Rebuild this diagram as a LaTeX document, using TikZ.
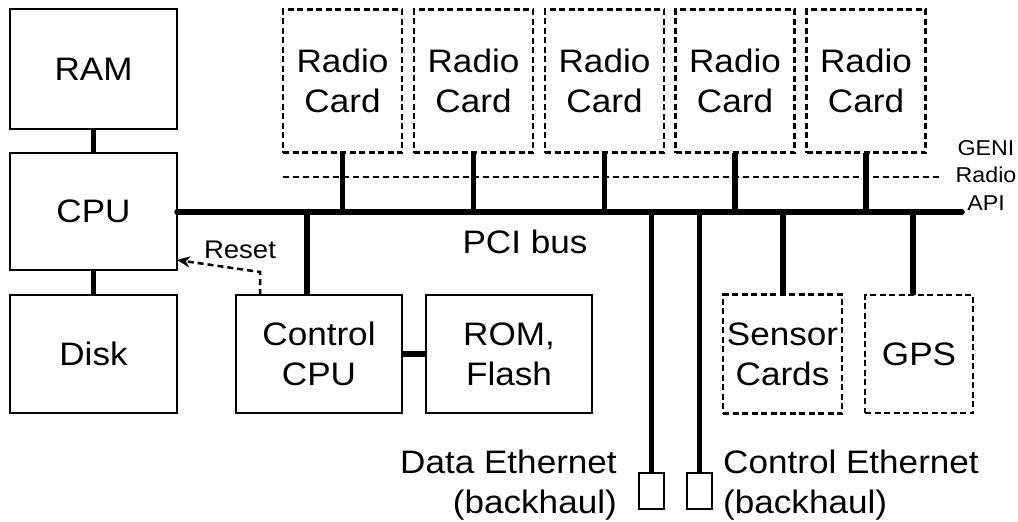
\documentclass[tikz,border=0pt]{standalone}
\usepackage{fontspec}
\setmainfont{Liberation Sans}[FakeStretch=1.08]
\usetikzlibrary{arrows.meta}
\newcommand\mainsize{\fontsize{32.5}{40}\selectfont}
\newcommand\smallsize{\fontsize{21.5}{27.5}\selectfont}
\newcommand\resetsize{\fontsize{25.5}{30}\selectfont}
\tikzset{
  unit/.style={draw, line width=1.5pt, inner sep=0pt, outer sep=0pt,
    align=center, font=\mainsize},
  card/.style={unit, line width=2.3pt, dash pattern=on 6pt off 3.5pt},
  link/.style={line width=5.5pt},
  label/.style={inner sep=0pt, font=\mainsize},
}
\begin{document}
\begin{tikzpicture}[x=1pt, y=-1pt]
\useasboundingbox (0,0) rectangle (1018,522);

% host side
\node[unit, minimum width=167pt, minimum height=120pt] (ram)  at (93.5,69)    {RAM};
\node[unit, minimum width=167pt, minimum height=117pt] (cpu)  at (93.5,211.5) {CPU};
\node[unit, minimum width=167pt, minimum height=118pt] (disk) at (93.5,354)   {Disk};
\node[unit, minimum width=166pt, minimum height=118pt] (ctrl) at (319,354)    {Control\\CPU};
\node[unit, minimum width=166pt, minimum height=118pt] (rom)  at (509,354)    {ROM,\\Flash};

% radio cards
\foreach \n/\cx in {1/342.5, 2/473.5, 3/604.5, 4/735, 5/866}
  \node[card, minimum width=119pt, minimum height=143pt] (rc\n) at (\cx,81) {Radio\\Card};

% other cards
\node[card, minimum width=119pt, minimum height=119pt] (sensor) at (782.5,354) {Sensor\\Cards};
\node[card, minimum width=108pt, minimum height=118pt] (gps)    at (919,354)   {GPS};

% ethernet jacks
\node[unit, minimum width=25pt, minimum height=36pt] (eth1) at (651.5,491) {};
\node[unit, minimum width=25pt, minimum height=36pt] (eth2) at (699.5,491) {};

% bus taps
\coordinate (busend) at (962,212);
\coordinate (tctrl) at (307,212);
\coordinate (teth1) at (651.5,212);
\coordinate (teth2) at (699.5,212);
\coordinate (tsens) at (783,212);
\coordinate (tgps)  at (913,212);

% PCI bus and links
\draw[link] (ram) -- (cpu);
\draw[link] (cpu) -- (disk);
\draw[link, line cap=round] (cpu.east |- busend) -- (busend);
\foreach \n in {1,...,5}
  \draw[link] (rc\n.south) -- (rc\n.south |- busend);
\draw[link] (tctrl) -- (tctrl |- ctrl.north);
\draw[link] (ctrl.east) -- (rom.west);
\draw[link] (teth1) -- (eth1.north);
\draw[link] (teth2) -- (eth2.north);
\draw[link] (tsens) -- (tsens |- sensor.north);
\draw[link] (tgps) -- (tgps |- gps.north);

% GENI radio API boundary
\coordinate (apiL) at (283,177);
\coordinate (apiR) at (943,177);
\draw[line width=1.7pt, dash pattern=on 6pt off 4pt] (apiL) -- (apiR);
\node[inner sep=0pt, font=\smallsize, align=center] (api) at (986,175) {GENI\\Radio\\API};

% reset line from the control CPU
\coordinate (rbend) at (260,272);
\draw[line width=2.5pt, dash pattern=on 6pt off 4pt, -{Stealth[length=13pt, width=11pt]}]
  (ctrl.north west -| rbend) -- (rbend) -- (cpu.east |- 0,260);
\node[inner sep=0pt, font=\resetsize, anchor=base] (reset) at (240,258) {Reset};

% labels
\node[label] (pci) at (525,242) {PCI bus};
\node[label, align=right, anchor=east] (deth) at (617,485) {Data Ethernet\\(backhaul)};
\node[label, align=left, anchor=west] (ceth) at (723,485) {Control Ethernet\\(backhaul)};
\end{tikzpicture}
\end{document}
